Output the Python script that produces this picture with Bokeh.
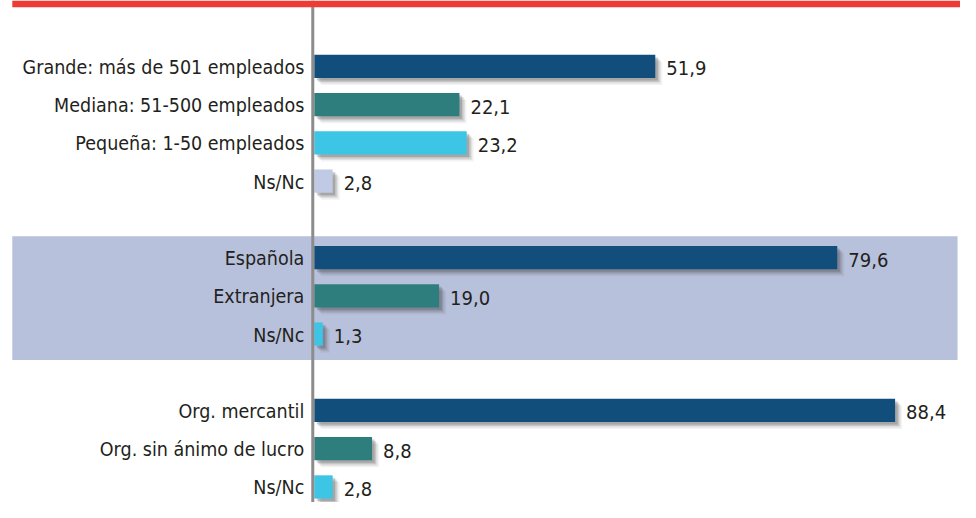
from bokeh.plotting import figure
from bokeh.models import ColumnDataSource, Range1d, Span, BoxAnnotation
from bokeh.core.properties import value
from bokeh.embed import file_html
from bokeh.resources import INLINE

# ---- data ----
size_labels = ["Grande: más de 501 empleados", "Mediana: 51-500 empleados",
               "Pequeña: 1-50 empleados", "Ns/Nc"]
size_values = [51.9, 22.1, 23.2, 2.8]
origin_labels = ["Española", "Extranjera", "Ns/Nc"]
origin_values = [79.6, 19.0, 1.3]
type_labels = ["Org. mercantil", "Org. sin ánimo de lucro", "Ns/Nc"]
type_values = [88.4, 8.8, 2.8]
groups = [(size_labels, size_values), (origin_labels, origin_values), (type_labels, type_values)]
palette = ["#124E7C", "#2E7E7E", "#3DC5E5", "#C1CAE4"]

# ---- layout (styles) ----
W, H = 960, 502
SX, SY = 960 / 976, 502 / 518
PX_PER_UNIT = 6.68 * SX
AXIS_PX = 319 * SX
SLOT_PX = 39.45 * SY
FIRST_SLOT_PX = 68 * SY
BAR_PX = 24 * SY
FONT = value("'DejaVu Sans Condensed', 'Roboto Condensed', 'Arial Narrow', Roboto, sans-serif")

ys, vals, labels, colors, group_bounds = [], [], [], [], []
slot = 0
for lab, vs in groups:
    start = slot
    for i, (l, v) in enumerate(zip(lab, vs)):
        ys.append(slot); vals.append(v); labels.append(l); colors.append(palette[i])
        slot += 1
    group_bounds.append((start, slot - 1))
    slot += 1  # gap

src = ColumnDataSource(dict(y=ys, v=vals, label=labels, color=colors,
                            vtxt=[f"{v:.1f}".replace(".", ",") for v in vals]))

x0 = -AXIS_PX / PX_PER_UNIT
x1 = (W - AXIS_PX) / PX_PER_UNIT
s_top = -FIRST_SLOT_PX / SLOT_PX
s_bot = (H - FIRST_SLOT_PX) / SLOT_PX
left_edge = x0 + 12 * SX / PX_PER_UNIT

p = figure(width=W, height=H, x_range=Range1d(x0, x1), y_range=Range1d(s_bot, s_top),
           output_backend="svg", toolbar_location=None,
           x_axis_location=None, y_axis_location=None,
           min_border=0, min_border_left=0, min_border_right=0,
           min_border_top=0, min_border_bottom=0)
p.outline_line_color = None
p.xgrid.visible = False
p.ygrid.visible = False
p.background_fill_color = "white"

# middle group band
g1 = group_bounds[1]
p.add_layout(BoxAnnotation(left=left_edge, right=x0 + 973 * SX / PX_PER_UNIT,
                           top=g1[0] - 0.56, bottom=g1[1] + 0.68,
                           fill_color="#B8C1DB", fill_alpha=1.0, line_color=None,
                           level="underlay"))

bh = BAR_PX / SLOT_PX
# soft shadows
for off, a in [(7, 0.06), (5.5, 0.10), (4, 0.16), (2.5, 0.22)]:
    dx = off / PX_PER_UNIT
    dy = off / SLOT_PX
    sh = ColumnDataSource(dict(y=[y + dy for y in ys], l=[dx] * len(vals),
                               r=[v + dx for v in vals]))
    p.hbar(y="y", left="l", right="r", height=bh, source=sh,
           fill_color="#3A3A3A", fill_alpha=a, line_color=None)

p.hbar(y="y", left=0, right="v", height=bh, source=src,
       fill_color="color", line_color=None)

p.add_layout(Span(location=-1.5 / PX_PER_UNIT, dimension="height",
                  line_color="#8C8C8C", line_width=3))

# red top band
p.add_layout(BoxAnnotation(left=left_edge, right=x1, top=s_top,
                           bottom=s_top + 7 * SY / SLOT_PX,
                           fill_color="#EE3B33", fill_alpha=1.0, line_color=None))

p.text(x=0, y="y", text="label", source=src, x_offset=-10, y_offset=1,
       text_align="right", text_baseline="middle", text_font=FONT,
       text_font_size="19.5px", text_color="#231F20")
p.text(x="v", y="y", text="vtxt", source=src, x_offset=11, y_offset=2,
       text_align="left", text_baseline="middle", text_font=FONT,
       text_font_size="20px", text_color="#231F20")

open("out.html", "w").write(file_html(p, INLINE))
